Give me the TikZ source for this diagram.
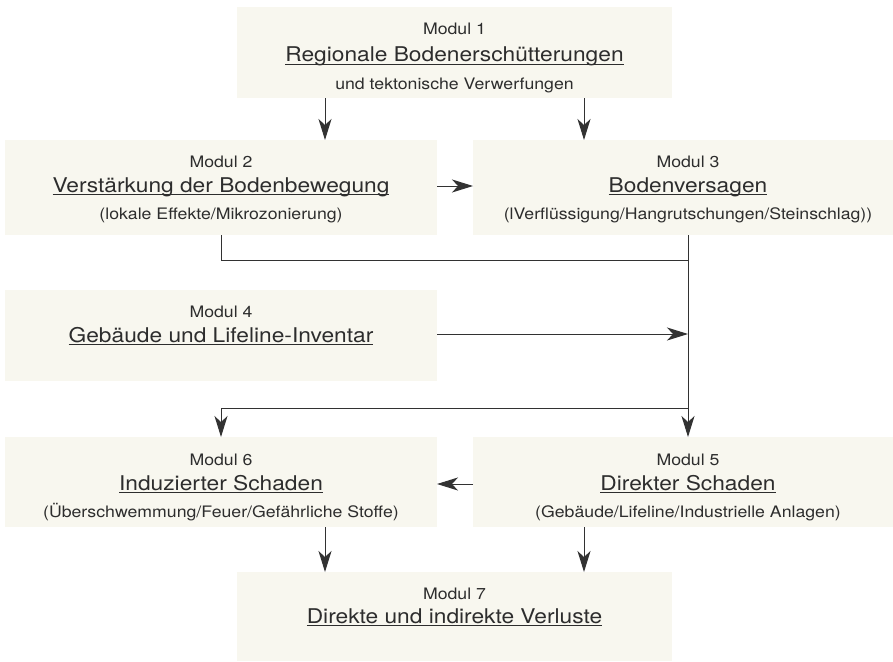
\documentclass[tikz,border=0pt]{standalone}
\usepackage{fontspec}
\setmainfont{TeX Gyre Heros}[FakeStretch=1.12]
\usetikzlibrary{arrows.meta,calc}
\definecolor{boxfill}{RGB}{248,247,239}
\definecolor{ink}{RGB}{45,45,45}
\definecolor{linec}{RGB}{50,50,50}
\newcommand{\ulx}[1]{\setbox0\hbox{#1}\rlap{\color{ink}\rule[-2.4pt]{\wd0}{0.9pt}}\box0}
\tikzset{
  modbox/.style={draw=none, fill=boxfill, inner sep=0pt, outer sep=0pt, anchor=north west},
  small/.style={anchor=base, inner sep=0pt, text=ink, font=\fontsize{15.8}{18}\selectfont},
  ttl/.style={anchor=base, inner sep=0pt, text=ink, font=\fontsize{20.3}{24}\selectfont},
  conn/.style={draw=linec, line width=1pt},
  arr/.style={conn, -{Stealth[length=21pt,width=13pt,inset=6pt]}}
}
\begin{document}
\begin{tikzpicture}[x=1pt,y=-1pt]
\fill[white] (0,0) rectangle (893,661);
\useasboundingbox (0,0) rectangle (893,661);

% boxes
\node[modbox, minimum width=435pt, minimum height=91pt] (m1) at (237,7) {};
\node[modbox, minimum width=432pt, minimum height=95pt] (m2) at (5,140) {};
\node[modbox, minimum width=420pt, minimum height=95pt] (m3) at (473,140) {};
\node[modbox, minimum width=432pt, minimum height=91pt] (m4) at (5,290) {};
\node[modbox, minimum width=432pt, minimum height=90pt] (m6) at (5,437) {};
\node[modbox, minimum width=420pt, minimum height=90pt] (m5) at (473,437) {};
\node[modbox, minimum width=435pt, minimum height=89pt] (m7) at (237,572) {};

% texts
\node[small] (t1a) at (454.5,35) {Modul 1};
\node[ttl]   (t1b) at (454.5,62) {\ulx{Regionale Bodenerschütterungen}};
\node[small] (t1c) at (454.5,89) {und tektonische Verwerfungen};

\node[small] (t2a) at (221,167) {Modul 2};
\node[ttl]   (t2b) at (221,192) {\ulx{Verstärkung der Bodenbewegung}};
\node[small] (t2c) at (221,219) {(lokale Effekte/Mikrozonierung)};

\node[small] (t3a) at (688,167) {Modul 3};
\node[ttl]   (t3b) at (688,192) {\ulx{Bodenversagen}};
\node[small] (t3c) at (688,219) {(lVerflüssigung/Hangrutschungen/Steinschlag))};

\node[small] (t4a) at (221,317) {Modul 4};
\node[ttl]   (t4b) at (221,342) {\ulx{Gebäude und Lifeline-Inventar}};

\node[small] (t6a) at (221,465) {Modul 6};
\node[ttl]   (t6b) at (221,490) {\ulx{Induzierter Schaden}};
\node[small] (t6c) at (221,517) {(Überschwemmung/Feuer/Gefährliche Stoffe)};

\node[small] (t5a) at (688,465) {Modul 5};
\node[ttl]   (t5b) at (688,490) {\ulx{Direkter Schaden}};
\node[small] (t5c) at (688,517) {(Gebäude/Lifeline/Industrielle Anlagen)};

\node[small] (t7a) at (454.5,599) {Modul 7};
\node[ttl]   (t7b) at (454.5,623) {\ulx{Direkte und indirekte Verluste}};

% helper coordinates
\coordinate (xa) at (325,0);
\coordinate (xb) at (584,0);
\coordinate (xl) at (221,0);
\coordinate (xr) at (688,0);
\coordinate (ya) at (0,186);
\coordinate (yb) at (0,334);
\coordinate (yc) at (0,484);
\coordinate (j1) at (688,260);
\coordinate (j2) at (688,408);
\coordinate (j3) at (688,334);

% connectors
\draw[arr] (m1.south -| xa) -- (m2.north -| xa);
\draw[arr] (m1.south -| xb) -- (m3.north -| xb);
\draw[arr] (m2.east |- ya) -- (m3.west |- ya);
\draw[conn] (m2.south -| xl) |- (j1);
\draw[conn] (m3.south -| xr) -- (j2);
\draw[arr] (m4.east |- yb) -- (j3);
\draw[arr] (j2) -- (m5.north -| xr);
\draw[arr] (j2) -| (m6.north -| xl);
\draw[arr] (m5.west |- yc) -- (m6.east |- yc);
\draw[arr] (m6.south -| xa) -- (m7.north -| xa);
\draw[arr] (m5.south -| xb) -- (m7.north -| xb);
\end{tikzpicture}
\end{document}
